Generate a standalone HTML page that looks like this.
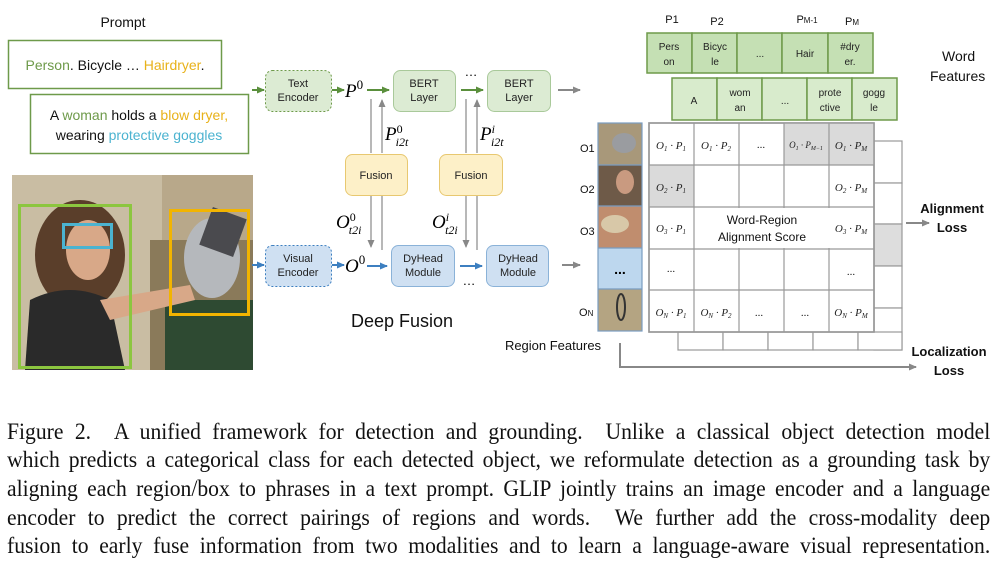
<!DOCTYPE html>
<html><head><meta charset="utf-8"><style>
html,body{margin:0;padding:0;background:#fff;width:1000px;height:562px;overflow:hidden}
.cap{position:absolute;left:7px;width:1046px;font-family:"Liberation Serif",serif;font-size:23px;color:#111;text-align:justify;text-align-last:justify;white-space:nowrap;line-height:28px;transform:scaleX(0.94);transform-origin:0 0}
</style></head><body>
<svg width="1000" height="400" style="position:absolute;left:0;top:0" font-family="Liberation Sans, sans-serif">
<defs>
<marker id="ag" markerWidth="8" markerHeight="8" refX="7" refY="4" orient="auto" markerUnits="userSpaceOnUse"><path d="M0,0.5 L8,4 L0,7.5z" fill="#5a8f3c"/></marker>
<marker id="ab" markerWidth="8" markerHeight="8" refX="7" refY="4" orient="auto" markerUnits="userSpaceOnUse"><path d="M0,0.5 L8,4 L0,7.5z" fill="#3d7fc0"/></marker>
<marker id="ay" markerWidth="8" markerHeight="8" refX="7" refY="4" orient="auto" markerUnits="userSpaceOnUse"><path d="M0,0.5 L8,4 L0,7.5z" fill="#888"/></marker>
</defs>
<text x="123" y="27" font-size="14" text-anchor="middle" fill="#111">Prompt</text>
<rect x="8.5" y="40.5" width="213" height="48" fill="#fff" stroke="#6e9a4a" stroke-width="1.5"/>
<text x="115" y="70" font-size="14" text-anchor="middle"><tspan fill="#6e9a4a">Person</tspan><tspan fill="#111">. Bicycle … </tspan><tspan fill="#e8b21a">Hairdryer</tspan><tspan fill="#111">.</tspan></text>
<rect x="30.5" y="94.5" width="218" height="59" fill="#fff" stroke="#6e9a4a" stroke-width="1.5"/>
<text x="139" y="120" font-size="14" text-anchor="middle"><tspan fill="#111">A </tspan><tspan fill="#6e9a4a">woman</tspan><tspan fill="#111"> holds a </tspan><tspan fill="#e8b21a">blow dryer,</tspan></text>
<text x="139" y="140" font-size="14" text-anchor="middle"><tspan fill="#111">wearing </tspan><tspan fill="#4bb3d0">protective goggles</tspan></text>
<rect x="12" y="175" width="241" height="195" fill="#b8a88a"/>
<rect x="12" y="175" width="150" height="195" fill="#c9bda3"/>
<rect x="150" y="240" width="103" height="130" fill="#8a7a5a"/>
<rect x="165" y="300" width="88" height="70" fill="#2e4a32"/>
<ellipse cx="80" cy="255" rx="45" ry="55" fill="#5a3e2a"/>
<ellipse cx="88" cy="250" rx="22" ry="30" fill="#d8a888"/>
<path d="M25,370 L30,300 Q70,280 110,300 L125,370z" fill="#2a2a2a"/>
<path d="M100,300 L190,285 L195,300 L110,320z" fill="#d8a888"/>
<ellipse cx="212" cy="258" rx="28" ry="40" fill="#b5b8bc"/>
<rect x="205" y="212" width="36" height="40" fill="#4a4a4e" transform="rotate(20 223 232)"/>
<rect x="19.5" y="205.5" width="111" height="162" fill="none" stroke="#8cc63f" stroke-width="3"/>
<rect x="63.5" y="224.5" width="48" height="23" fill="none" stroke="#4bb3d0" stroke-width="3"/>
<rect x="170.5" y="210.5" width="78" height="104" fill="none" stroke="#f2b400" stroke-width="3"/>
<line x1="252" y1="90" x2="264" y2="90" stroke="#5a8f3c" stroke-width="2" marker-end="url(#ag)"/>
<line x1="252" y1="265" x2="264" y2="265" stroke="#3d7fc0" stroke-width="2" marker-end="url(#ab)"/>
<rect x="265.5" y="70.5" width="66" height="41" rx="7" fill="#dcebd3" stroke="#6e9a4a" stroke-dasharray="2,2"/>
<text x="298" y="87" font-size="11" text-anchor="middle" fill="#222">Text</text>
<text x="298" y="101" font-size="11" text-anchor="middle" fill="#222">Encoder</text>
<line x1="332" y1="90" x2="344" y2="90" stroke="#5a8f3c" stroke-width="2" marker-end="url(#ag)"/>
<text x="345" y="97" font-size="19" font-style="italic" font-family="Liberation Serif, serif">P<tspan font-size="13" dy="-8" font-style="normal">0</tspan></text>
<line x1="367" y1="90" x2="389" y2="90" stroke="#5a8f3c" stroke-width="2" marker-end="url(#ag)"/>
<rect x="393.5" y="70.5" width="62" height="41" rx="7" fill="#dcebd3" stroke="#a9c99a"/>
<text x="424" y="87" font-size="11" text-anchor="middle" fill="#222">BERT</text>
<text x="424" y="101" font-size="11" text-anchor="middle" fill="#222">Layer</text>
<text x="471" y="76" font-size="13" text-anchor="middle">…</text>
<line x1="461" y1="90" x2="483" y2="90" stroke="#5a8f3c" stroke-width="2" marker-end="url(#ag)"/>
<rect x="487.5" y="70.5" width="63" height="41" rx="7" fill="#dcebd3" stroke="#a9c99a"/>
<text x="519" y="87" font-size="11" text-anchor="middle" fill="#222">BERT</text>
<text x="519" y="101" font-size="11" text-anchor="middle" fill="#222">Layer</text>
<line x1="558" y1="90" x2="580" y2="90" stroke="#888" stroke-width="2" marker-end="url(#ay)"/>
<line x1="371" y1="99" x2="371" y2="153" stroke="#888" stroke-width="1.2"/>
<line x1="382" y1="153" x2="382" y2="100" stroke="#888" stroke-width="1.2" marker-end="url(#ay)"/>
<line x1="371" y1="196" x2="371" y2="247" stroke="#888" stroke-width="1.2" marker-end="url(#ay)"/>
<line x1="382" y1="250" x2="382" y2="196" stroke="#888" stroke-width="1.2"/>
<line x1="466" y1="99" x2="466" y2="153" stroke="#888" stroke-width="1.2"/>
<line x1="477" y1="153" x2="477" y2="100" stroke="#888" stroke-width="1.2" marker-end="url(#ay)"/>
<line x1="466" y1="196" x2="466" y2="247" stroke="#888" stroke-width="1.2" marker-end="url(#ay)"/>
<line x1="477" y1="250" x2="477" y2="196" stroke="#888" stroke-width="1.2"/>
<rect x="345.5" y="154.5" width="62" height="41" rx="7" fill="#fdf0c8" stroke="#e8c870"/>
<text x="376" y="179" font-size="11" text-anchor="middle" fill="#222">Fusion</text>
<rect x="439.5" y="154.5" width="63" height="41" rx="7" fill="#fdf0c8" stroke="#e8c870"/>
<text x="471" y="179" font-size="11" text-anchor="middle" fill="#222">Fusion</text>
<g font-family="Liberation Serif, serif" font-style="italic">
<text x="385" y="140" font-size="19">P<tspan font-size="12" dy="-7" font-style="normal">0</tspan><tspan font-size="12" dx="-7" dy="13">i2t</tspan></text>
<text x="480" y="140" font-size="19">P<tspan font-size="12" dy="-7">i</tspan><tspan font-size="12" dx="-4" dy="13">i2t</tspan></text>
<text x="336" y="228" font-size="19">O<tspan font-size="12" dy="-7" font-style="normal">0</tspan><tspan font-size="12" dx="-7" dy="13">t2i</tspan></text>
<text x="432" y="228" font-size="19">O<tspan font-size="12" dy="-7">i</tspan><tspan font-size="12" dx="-4" dy="13">t2i</tspan></text>
</g>
<rect x="265.5" y="245.5" width="66" height="41" rx="7" fill="#cfe0f2" stroke="#3d7fc0" stroke-dasharray="2,2"/>
<text x="298" y="262" font-size="11" text-anchor="middle" fill="#222">Visual</text>
<text x="298" y="276" font-size="11" text-anchor="middle" fill="#222">Encoder</text>
<line x1="332" y1="265" x2="344" y2="265" stroke="#3d7fc0" stroke-width="2" marker-end="url(#ab)"/>
<text x="345" y="272" font-size="19" font-style="italic" font-family="Liberation Serif, serif">O<tspan font-size="13" dy="-8" font-style="normal">0</tspan></text>
<line x1="367" y1="266" x2="387" y2="266" stroke="#3d7fc0" stroke-width="2" marker-end="url(#ab)"/>
<rect x="391.5" y="245.5" width="63" height="41" rx="7" fill="#cfe0f2" stroke="#8ab2d8"/>
<text x="423" y="262" font-size="11" text-anchor="middle" fill="#222">DyHead</text>
<text x="423" y="276" font-size="11" text-anchor="middle" fill="#222">Module</text>
<line x1="460" y1="266" x2="482" y2="266" stroke="#3d7fc0" stroke-width="2" marker-end="url(#ab)"/>
<text x="469" y="285" font-size="13" text-anchor="middle">…</text>
<rect x="486.5" y="245.5" width="62" height="41" rx="7" fill="#cfe0f2" stroke="#8ab2d8"/>
<text x="518" y="262" font-size="11" text-anchor="middle" fill="#222">DyHead</text>
<text x="518" y="276" font-size="11" text-anchor="middle" fill="#222">Module</text>
<line x1="562" y1="265" x2="580" y2="265" stroke="#888" stroke-width="2" marker-end="url(#ay)"/>
<text x="402" y="327" font-size="18" text-anchor="middle" fill="#111">Deep Fusion</text>
<g font-size="11" fill="#111" text-anchor="middle">
<text x="672" y="23">P1</text><text x="717" y="25">P2</text>
<text x="807" y="23">P<tspan font-size="8">M-1</tspan></text><text x="852" y="25">P<tspan font-size="8">M</tspan></text>
</g>
<g fill="#c5e0b4" stroke="#6e9a4a" stroke-width="1.5">
<rect x="647" y="33" width="45" height="40"/><rect x="692" y="33" width="45" height="40"/><rect x="737" y="33" width="45" height="40"/><rect x="782" y="33" width="46" height="40"/><rect x="828" y="33" width="45" height="40"/>
</g>
<g fill="#d8ebcc" stroke="#6e9a4a" stroke-width="1.5">
<rect x="672" y="78" width="45" height="42"/><rect x="717" y="78" width="45" height="42"/><rect x="762" y="78" width="45" height="42"/><rect x="807" y="78" width="45" height="42"/><rect x="852" y="78" width="45" height="42"/>
</g>
<g font-size="10" fill="#222" text-anchor="middle">
<text x="669" y="50">Pers</text><text x="669" y="65">on</text>
<text x="715" y="50">Bicyc</text><text x="715" y="65">le</text>
<text x="760" y="57">...</text>
<text x="805" y="57">Hair</text>
<text x="850" y="50">#dry</text><text x="850" y="65">er.</text>
<text x="694" y="104">A</text>
<text x="740" y="96">wom</text><text x="740" y="111">an</text>
<text x="785" y="104">...</text>
<text x="830" y="96">prote</text><text x="830" y="111">ctive</text>
<text x="874" y="96">gogg</text><text x="874" y="111">le</text>
</g>
<text x="942" y="61" font-size="14" fill="#111">Word</text>
<text x="930" y="81" font-size="14" fill="#111">Features</text>
<g fill="#fff" stroke="#999" stroke-width="1.2">
<rect x="874" y="141" width="28" height="42"/><rect x="874" y="183" width="28" height="41"/><rect x="874" y="224" width="28" height="42" fill="#ddd"/><rect x="874" y="266" width="28" height="42"/><rect x="874" y="308" width="28" height="42"/>
<rect x="678" y="332" width="45" height="18"/><rect x="723" y="332" width="45" height="18"/><rect x="768" y="332" width="45" height="18"/><rect x="813" y="332" width="45" height="18"/><rect x="858" y="332" width="44" height="18"/>
</g>
<rect x="649" y="123" width="225" height="209" fill="#fff" stroke="#999" stroke-width="1.5"/>
<rect x="784" y="123" width="90" height="42" fill="#dadada"/>
<rect x="649" y="165" width="45" height="42" fill="#dadada"/>
<g stroke="#999" stroke-width="1.2">
<line x1="649" y1="165" x2="874" y2="165"/><line x1="649" y1="207" x2="874" y2="207"/><line x1="649" y1="249" x2="874" y2="249"/><line x1="649" y1="290" x2="874" y2="290"/>
<line x1="694" y1="123" x2="694" y2="332"/><line x1="739" y1="123" x2="739" y2="332"/><line x1="784" y1="123" x2="784" y2="332"/><line x1="829" y1="123" x2="829" y2="332"/>
</g>
<rect x="701" y="208" width="132" height="40" fill="#fff"/>
<rect x="649" y="123" width="225" height="209" fill="none" stroke="#999" stroke-width="1.5"/>
<text x="762" y="224" font-size="12" text-anchor="middle" fill="#111">Word-Region</text>
<text x="762" y="241" font-size="12" text-anchor="middle" fill="#111">Alignment Score</text>
<g font-family="Liberation Serif, serif" font-style="italic" font-size="11" fill="#222" text-anchor="middle">
<text x="671" y="149">O<tspan font-size="7" dy="2">1</tspan><tspan dy="-2"> · P</tspan><tspan font-size="7" dy="2">1</tspan></text>
<text x="716" y="149">O<tspan font-size="7" dy="2">1</tspan><tspan dy="-2"> · P</tspan><tspan font-size="7" dy="2">2</tspan></text>
<text x="761" y="148" font-style="normal">...</text>
<text x="806" y="148" font-size="9">O<tspan font-size="6" dy="2">1</tspan><tspan dy="-2"> · P</tspan><tspan font-size="6" dy="2">M−1</tspan></text>
<text x="851" y="149">O<tspan font-size="7" dy="2">1</tspan><tspan dy="-2"> · P</tspan><tspan font-size="7" dy="2">M</tspan></text>
<text x="671" y="191">O<tspan font-size="7" dy="2">2</tspan><tspan dy="-2"> · P</tspan><tspan font-size="7" dy="2">1</tspan></text>
<text x="851" y="191">O<tspan font-size="7" dy="2">2</tspan><tspan dy="-2"> · P</tspan><tspan font-size="7" dy="2">M</tspan></text>
<text x="671" y="232">O<tspan font-size="7" dy="2">3</tspan><tspan dy="-2"> · P</tspan><tspan font-size="7" dy="2">1</tspan></text>
<text x="851" y="232">O<tspan font-size="7" dy="2">3</tspan><tspan dy="-2"> · P</tspan><tspan font-size="7" dy="2">M</tspan></text>
<text x="671" y="272" font-style="normal">...</text>
<text x="851" y="275" font-style="normal">...</text>
<text x="671" y="316">O<tspan font-size="7" dy="2">N</tspan><tspan dy="-2"> · P</tspan><tspan font-size="7" dy="2">1</tspan></text>
<text x="716" y="316">O<tspan font-size="7" dy="2">N</tspan><tspan dy="-2"> · P</tspan><tspan font-size="7" dy="2">2</tspan></text>
<text x="759" y="316" font-style="normal">...</text>
<text x="805" y="316" font-style="normal">...</text>
<text x="851" y="316">O<tspan font-size="7" dy="2">N</tspan><tspan dy="-2"> · P</tspan><tspan font-size="7" dy="2">M</tspan></text>
</g>
<rect x="598" y="123" width="44" height="42" fill="#a8987a"/>
<ellipse cx="624" cy="143" rx="12" ry="10" fill="#9a9ca0"/>
<rect x="598" y="165" width="44" height="41" fill="#6e5a48"/>
<ellipse cx="625" cy="182" rx="9" ry="12" fill="#c99a80"/>
<rect x="598" y="206" width="44" height="42" fill="#c08d6e"/>
<ellipse cx="615" cy="224" rx="14" ry="9" fill="#d8c8a8"/>
<rect x="598" y="248" width="44" height="41" fill="#bdd7ee"/>
<text x="620" y="274" font-size="14" text-anchor="middle" font-weight="bold">...</text>
<rect x="598" y="289" width="44" height="42" fill="#b4a482"/>
<ellipse cx="621" cy="307" rx="4" ry="13" fill="none" stroke="#333" stroke-width="2"/>
<g fill="none" stroke="#7a9cc0" stroke-width="1.2"><rect x="598" y="123" width="44" height="208"/><line x1="598" y1="165" x2="642" y2="165"/><line x1="598" y1="206" x2="642" y2="206"/><line x1="598" y1="248" x2="642" y2="248"/><line x1="598" y1="289" x2="642" y2="289"/></g>
<g font-size="11" fill="#111"><text x="580" y="152">O1</text><text x="580" y="193">O2</text><text x="580" y="235">O3</text><text x="579" y="316">O<tspan font-size="8">N</tspan></text></g>
<line x1="906" y1="223" x2="929" y2="223" stroke="#888" stroke-width="2" marker-end="url(#ay)"/>
<text x="952" y="213" font-size="13" font-weight="bold" text-anchor="middle" fill="#111">Alignment</text>
<text x="952" y="232" font-size="13" font-weight="bold" text-anchor="middle" fill="#111">Loss</text>
<text x="553" y="350" font-size="13" text-anchor="middle" fill="#111">Region Features</text>
<polyline points="620,343 620,367 916,367" fill="none" stroke="#888" stroke-width="2" marker-end="url(#ay)"/>
<text x="949" y="356" font-size="13" font-weight="bold" text-anchor="middle" fill="#111">Localization</text>
<text x="949" y="375" font-size="13" font-weight="bold" text-anchor="middle" fill="#111">Loss</text>
</svg>
<div class="cap" style="top:418px">Figure 2. &nbsp;A unified framework for detection and grounding. &nbsp;Unlike a classical object detection model</div>
<div class="cap" style="top:446px">which predicts a categorical class for each detected object, we reformulate detection as a grounding task by</div>
<div class="cap" style="top:475px">aligning each region/box to phrases in a text prompt. GLIP jointly trains an image encoder and a language</div>
<div class="cap" style="top:504px">encoder to predict the correct pairings of regions and words. &nbsp;We further add the cross-modality deep</div>
<div class="cap" style="top:532px">fusion to early fuse information from two modalities and to learn a language-aware visual representation.</div>
</body></html>
